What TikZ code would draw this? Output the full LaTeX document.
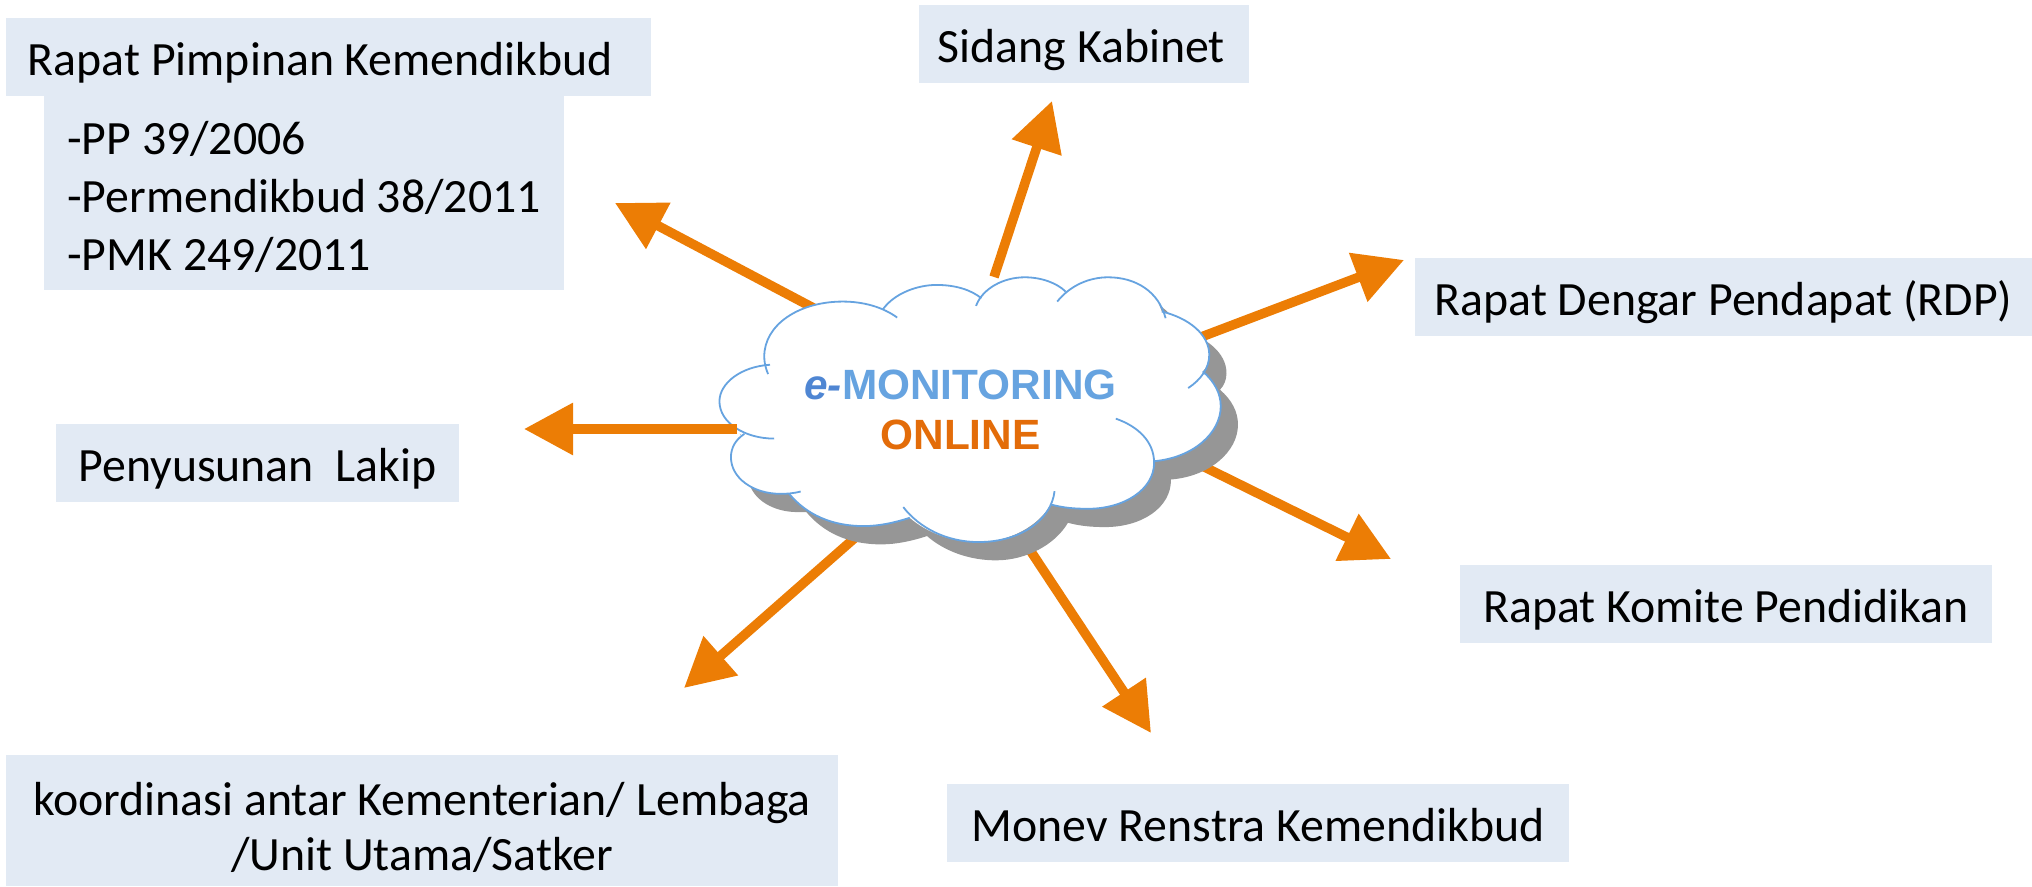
\documentclass[tikz,border=0pt]{standalone}
\usepackage{fontspec}
\setmainfont{Carlito}
\newfontfamily\cloudfont{Liberation Sans}
\usetikzlibrary{arrows.meta}
\definecolor{boxblue}{HTML}{E2EAF4}
\definecolor{arroworange}{HTML}{EC7D05}
\definecolor{cloudblue}{HTML}{66A3E0}
\definecolor{cloudeblue}{HTML}{4F86D3}
\definecolor{onlineorange}{HTML}{E36C09}
\definecolor{cloudshadow}{HTML}{969696}
\tikzset{
  labelbox/.style={fill=boxblue,inner sep=0pt,minimum height=0.78cm,align=center,font=\fontsize{13.6}{16.4}\selectfont},
  linebox/.style={labelbox,text height=0.45cm,text depth=0.08cm},
  orangearrow/.style={draw=arroworange,line width=0.095cm,-{Triangle[length=0.49cm,width=0.50cm,fill=arroworange]}},
  lobe/.style={draw=cloudblue,line width=0.018cm}
}
\def\cloudoutline{(220,318) .. controls (215,195) and (310,125) .. (425,125) .. controls (465,125) and (505,135) .. (530,148)
  .. controls (560,100) and (620,75) .. (670,75) .. controls (720,75) and (760,90) .. (783,112)
  .. controls (805,75) and (850,52) .. (900,52) .. controls (945,52) and (985,70) .. (1007,95)
  .. controls (1035,68) and (1075,52) .. (1118,52) .. controls (1185,52) and (1240,95) .. (1258,155)
  .. controls (1330,175) and (1382,225) .. (1382,285) .. controls (1382,305) and (1376,322) .. (1365,335)
  .. controls (1395,365) and (1412,400) .. (1412,440) .. controls (1412,520) and (1340,595) .. (1237,605)
  .. controls (1238,690) and (1160,748) .. (1065,748) .. controls (1030,748) and (1000,745) .. (968,735)
  .. controls (935,800) and (860,848) .. (780,848) .. controls (710,848) and (645,820) .. (600,775)
  .. controls (560,790) and (520,800) .. (480,800) .. controls (395,800) and (330,765) .. (285,703)
  .. controls (278,703) and (270,703) .. (262,703) .. controls (190,703) and (133,655) .. (133,593) .. controls (133,565) and (145,540) .. (160,525)
  .. controls (125,500) and (103,465) .. (103,425) .. controls (103,370) and (160,325) .. (220,318) -- cycle}
\begin{document}
\begin{tikzpicture}
                \useasboundingbox (0,0) rectangle (20.32,8.86);

                % Marking arrow ends
                \coordinate (startrapat) at (8.40,5.64);%
                \coordinate (tiprapat) at (6.15,6.83);%
                \coordinate (startkabinet) at (9.94,6.09);%
                \coordinate (tipkabinet) at (10.52,7.85);%
                \coordinate (startrdp) at (11.80,5.41);%
                \coordinate (tiprdp) at (14.04,6.26);%
                \coordinate (startkomite) at (11.80,4.31);%
                \coordinate (tipkomite) at (13.91,3.27);%
                \coordinate (startmonev) at (10.20,3.51);%
                \coordinate (tipmonev) at (11.51,1.53);%
                \coordinate (startkoordinasi) at (8.65,3.57);%
                \coordinate (tipkoordinasi) at (6.84,1.98);%
                \coordinate (startlakip) at (7.37,4.57);%
                \coordinate (tiplakip) at (5.24,4.57);%

                % Drawing label boxes
                \node [linebox,minimum width=6.45cm] (rapat) at (3.285,8.29) {Rapat Pimpinan Kemendikbud\hspace*{0.16cm}};%
                \node [labelbox,minimum width=5.20cm,align=left,minimum height=1.94cm] (dasar) at (3.04,6.93) {\rule{0pt}{0.41cm}-PP 39/2006\\-Permendikbud 38/2011\hspace*{0.07cm}\\-PMK 249/2011};%
                \node [linebox,minimum width=3.30cm] (kabinet) at (10.84,8.42) {Sidang Kabinet\hspace*{0.05cm}};%
                \node [linebox,minimum width=6.17cm] (rdp) at (17.235,5.89) {Rapat Dengar Pendapat (RDP)};%
                \node [linebox,minimum width=5.32cm] (komite) at (17.26,2.82) {Rapat Komite Pendidikan};%
                \node [linebox,minimum width=6.22cm] (monev) at (12.58,0.63) {Monev Renstra Kemendikbud};%
                \node [labelbox,minimum width=8.32cm,minimum height=1.31cm,font=\fontsize{13.6}{15.9}\selectfont] (koordinasi) at (4.22,0.655) {\rule{0pt}{0.47cm}koordinasi antar Kementerian/ Lembaga\\/Unit Utama/Satker};%
                \node [linebox,minimum width=4.03cm] (lakip) at (2.575,4.23) {Penyusunan\ \ Lakip};%

                % Drawing arrows under the cloud
                \draw [orangearrow] (startrapat) -- (tiprapat);%
                \draw [orangearrow] (startrdp) -- (tiprdp);%
                \draw [orangearrow] (startkomite) -- (tipkomite);%
                \draw [orangearrow] (startmonev) -- (tipmonev);%
                \draw [orangearrow] (startkoordinasi) -- (tipkoordinasi);%
                \draw [orangearrow] (startkabinet) -- (tipkabinet);%

                % Drawing cloud
                \begin{scope}[shift={(6.80,6.26)},x=0.003827cm,y=-0.003333cm]
                \begin{scope}[shift={(45,55)}]
                \fill [cloudshadow] \cloudoutline;%
                \end{scope}
                \fill [white] \cloudoutline;%
                \draw [lobe] (230,343) .. controls (222,320) and (220,305) .. (220,290) .. controls (220,195) and (310,125) .. (425,125) .. controls (480,125) and (530,142) .. (567,173);%
                \draw [lobe] (530,148) .. controls (560,100) and (620,75) .. (670,75) .. controls (720,75) and (760,90) .. (787,115);%
                \draw [lobe] (773,138) .. controls (790,85) and (845,52) .. (900,52) .. controls (945,52) and (985,70) .. (1007,95);%
                \draw [lobe] (985,125) .. controls (1020,75) and (1070,52) .. (1118,52) .. controls (1190,52) and (1250,95) .. (1268,175);%
                \draw [lobe] (1258,155) .. controls (1330,175) and (1382,225) .. (1382,285) .. controls (1382,325) and (1360,360) .. (1327,385);%
                \draw [lobe] (1365,335) .. controls (1395,365) and (1412,400) .. (1412,440) .. controls (1412,520) and (1340,595) .. (1237,605);%
                \draw [lobe] (1138,477) .. controls (1195,500) and (1238,545) .. (1238,610) .. controls (1238,690) and (1160,748) .. (1065,748) .. controls (1030,748) and (1000,745) .. (968,735);%
                \draw [lobe] (978,695) .. controls (970,780) and (890,848) .. (780,848) .. controls (695,848) and (625,805) .. (583,743);%
                \draw [lobe] (600,775) .. controls (560,790) and (520,800) .. (480,800) .. controls (395,800) and (330,765) .. (285,703);%
                \draw [lobe] (315,696) .. controls (295,702) and (280,703) .. (262,703) .. controls (190,703) and (133,655) .. (133,593) .. controls (133,565) and (145,540) .. (168,523);%
                \draw [lobe] (246,537) .. controls (170,537) and (103,490) .. (103,425) .. controls (103,370) and (160,320) .. (235,315);%
                \end{scope}

                % Drawing arrow over the cloud
                \draw [orangearrow] (startlakip) -- (tiplakip);%

                % Marking cloud title
                \node [align=center,inner sep=0pt,font=\cloudfont\bfseries\fontsize{12.05}{14.4}\selectfont] (title) at (9.605,4.76) {{\color{cloudeblue}\itshape e-}{\color{cloudblue}MONITORING}\\{\color{onlineorange}ONLINE}};%
\end{tikzpicture}
\end{document}
